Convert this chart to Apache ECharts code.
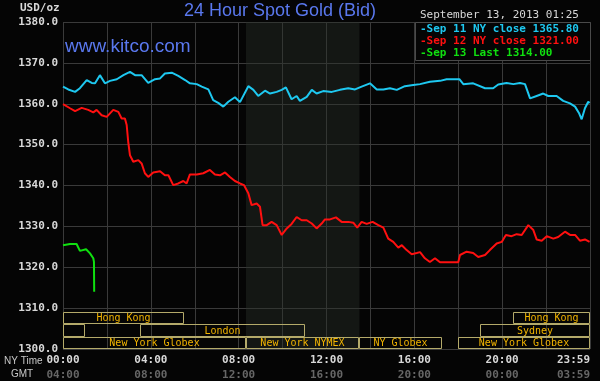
<!DOCTYPE html>
<html><head><meta charset="utf-8">
<script src="https://cdn.jsdelivr.net/npm/echarts@6/dist/echarts.min.js"></script>
<style>html,body{margin:0;padding:0;background:#050505}#c{width:600px;height:381px}</style>
</head><body><div id="c"></div>
<script>
// ---- data (hour of NY day, USD/oz) ----
const sep11 = [[0,1364.2],[0.24,1363.5],[0.55,1362.9],[0.77,1363.8],[1.08,1365.8],[1.31,1365.1],[1.46,1365.0],[1.68,1367.0],[1.91,1365.0],[2.14,1365.6],[2.45,1366.0],[2.75,1367.0],[3.05,1367.8],[3.28,1367.0],[3.58,1367.0],[3.88,1365.1],[4.19,1366.0],[4.42,1366.2],[4.64,1367.4],[4.95,1367.6],[5.25,1366.8],[5.56,1365.8],[5.78,1365.0],[6.09,1364.8],[6.32,1364.2],[6.62,1363.5],[6.84,1360.9],[7.07,1360.2],[7.30,1359.3],[7.53,1360.5],[7.83,1361.6],[8.06,1360.4],[8.44,1364.3],[8.67,1363.4],[8.89,1361.9],[9.20,1363.2],[9.43,1362.5],[9.73,1362.9],[9.96,1363.4],[10.15,1364.0],[10.41,1361.1],[10.64,1361.9],[10.79,1360.7],[11.10,1361.7],[11.33,1363.4],[11.55,1362.5],[11.85,1363.1],[12.24,1362.9],[12.61,1363.4],[12.99,1363.8],[13.30,1363.5],[13.60,1364.2],[13.98,1365.0],[14.29,1363.5],[14.59,1363.5],[14.89,1363.8],[15.20,1363.4],[15.57,1364.3],[15.95,1364.6],[16.26,1364.8],[16.71,1365.4],[17.17,1365.6],[17.47,1366.0],[18.05,1366.0],[18.23,1364.8],[18.68,1365.0],[19.22,1363.8],[19.59,1363.8],[19.82,1364.7],[20.20,1365.1],[20.51,1364.8],[20.81,1365.1],[21.04,1364.8],[21.27,1361.3],[21.57,1361.9],[21.87,1362.5],[22.10,1361.9],[22.48,1361.9],[22.78,1360.7],[23.09,1360.1],[23.32,1359.3],[23.51,1357.6],[23.62,1356.2],[23.77,1358.9],[23.92,1360.5],[23.98,1360.2]];
const sep12 = [[0,1359.9],[0.32,1358.9],[0.55,1358.2],[0.85,1359.0],[1.15,1358.5],[1.38,1357.9],[1.53,1358.5],[1.76,1357.2],[1.99,1356.8],[2.29,1358.5],[2.52,1358.0],[2.67,1356.4],[2.82,1356.4],[2.90,1354.8],[2.97,1350.7],[3.05,1347.4],[3.20,1345.8],[3.43,1346.2],[3.58,1345.4],[3.73,1343.0],[3.88,1342.1],[4.11,1343.2],[4.42,1343.5],[4.64,1342.5],[4.80,1342.5],[5.02,1340.1],[5.25,1340.5],[5.48,1341.1],[5.63,1340.5],[5.78,1342.7],[6.09,1342.7],[6.39,1343.0],[6.69,1343.8],[6.92,1342.7],[7.15,1342.5],[7.38,1343.2],[7.60,1342.1],[7.83,1341.1],[8.06,1340.5],[8.24,1340.1],[8.44,1338.1],[8.59,1335.2],[8.82,1335.6],[8.97,1334.8],[9.09,1330.3],[9.28,1330.3],[9.50,1331.1],[9.73,1330.3],[9.96,1327.9],[10.19,1329.5],[10.41,1330.6],[10.64,1332.3],[10.87,1331.5],[11.10,1331.5],[11.33,1330.7],[11.55,1329.5],[11.78,1330.7],[11.93,1331.7],[12.16,1331.7],[12.43,1332.2],[12.69,1331.1],[12.99,1331.1],[13.22,1330.9],[13.40,1329.7],[13.60,1331.1],[13.83,1330.6],[14.10,1331.1],[14.36,1330.3],[14.59,1329.7],[14.81,1327.0],[15.04,1326.2],[15.27,1324.8],[15.43,1325.4],[15.65,1324.2],[15.88,1323.2],[16.11,1323.5],[16.26,1323.7],[16.48,1322.2],[16.71,1321.3],[16.94,1322.2],[17.17,1321.2],[18.00,1321.2],[18.08,1323.0],[18.38,1323.8],[18.68,1323.5],[18.91,1322.5],[19.22,1323.0],[19.44,1324.2],[19.75,1325.8],[19.98,1326.2],[20.17,1327.9],[20.43,1327.6],[20.66,1328.1],[20.89,1327.9],[21.19,1330.3],[21.42,1329.1],[21.57,1326.8],[21.80,1326.5],[22.03,1327.6],[22.33,1327.0],[22.55,1327.4],[22.86,1328.7],[23.09,1327.9],[23.32,1327.9],[23.54,1326.5],[23.77,1326.8],[23.98,1326.2]];
const sep13 = [[0,1325.4],[0.32,1325.7],[0.62,1325.7],[0.77,1324.0],[1.05,1324.4],[1.23,1323.4],[1.38,1322.2],[1.41,1321.3],[1.42,1314.0]];

const legendLabels = ['-Sep 11 NY close 1365.80', '-Sep 12 NY close 1321.00', '-Sep 13 Last 1314.00'];
const seriesColors = ['#1ec8f0', '#ff1010', '#10e010'];
const yTicks = {min: 1300, max: 1380, interval: 10};
const xTicks = {min: 0, max: 24, interval: 2};
const gmtOffset = 4;

// trading sessions: name, start hour, end hour, row (0 = top)
const sessionNames = ['Hong Kong', 'Hong Kong', '', 'London', 'Sydney', 'New York Globex', 'New York NYMEX', 'NY Globex', 'New York Globex'];
const sessionStart = [0, 20.5, 0, 3.5, 19, 0, 8.33, 13.5, 18];
const sessionEnd   = [5.5, 24, 1, 11, 24, 8.33, 13.5, 17.25, 24];
const sessionRow   = [0, 0, 1, 1, 1, 2, 2, 2, 2];
const rowTops = [1309, 1306, 1303];
const rowHeight = 3;
const nymexShade = [8.33, 13.5];

const mono = '"DejaVu Sans Mono", monospace';
const pad = n => (n < 10 ? '0' : '') + n;
function fmtHour(v, off) {
  if (v >= 24) return pad((23 + off) % 24) + ':59';
  return pad((v + off) % 24) + ':00';
}

const chart = echarts.init(document.getElementById('c'));
const sessionData = sessionNames.map((n, i) => [sessionStart[i], sessionEnd[i], sessionRow[i]]);

chart.setOption({
  backgroundColor: '#050505',
  animation: false,
  grid: {left: 63, right: 10, top: 22, bottom: 32},
  xAxis: {
    type: 'value', min: xTicks.min, max: xTicks.max, interval: xTicks.interval,
    axisLine: {show: false}, axisTick: {show: false},
    splitLine: {show: true, showMinLine: true, showMaxLine: true, lineStyle: {color: '#3a3a3a', width: 1}},
    axisLabel: {
      margin: 4,
      formatter: v => (v % 4 === 0 || v === 24) ? ('{a|' + fmtHour(v, 0) + '}\n{b|' + fmtHour(v, gmtOffset) + '}') : '',
      rich: {
        a: {fontFamily: mono, fontSize: 11, fontWeight: 'bold', color: '#d8d8d8', lineHeight: 15},
        b: {fontFamily: mono, fontSize: 11, fontWeight: 'bold', color: '#666666', lineHeight: 15}
      },
      alignMaxLabel: 'right'
    }
  },
  yAxis: {
    type: 'value', min: yTicks.min, max: yTicks.max, interval: yTicks.interval,
    axisLine: {show: false}, axisTick: {show: false},
    splitLine: {show: true, lineStyle: {color: '#3a3a3a', width: 1}},
    axisLabel: {margin: 5, formatter: v => v.toFixed(1), fontFamily: mono, fontSize: 11, fontWeight: 'bold', color: '#d8d8d8'}
  },
  series: [
    {type: 'line', data: [], z: 0, silent: true,
     markArea: {silent: true, itemStyle: {color: 'rgba(42,50,42,0.4)'}, data: [[{xAxis: nymexShade[0]}, {xAxis: nymexShade[1]}]]}},
    {type: 'custom', z: 2, silent: true, clip: false, data: sessionData,
     renderItem: (params, api) => {
       const s = api.value(0), e = api.value(1), r = api.value(2);
       const top = rowTops[r], bot = top - rowHeight;
       const p1 = api.coord([s, top]), p2 = api.coord([e, bot]);
       const x1 = Math.round(p1[0]) + 0.5, x2 = Math.round(p2[0]) - 0.5;
       const y1 = Math.round(p1[1]) + 0.5, y2 = Math.round(p2[1]) - 0.5;
       return {type: 'group', children: [
         {type: 'rect', shape: {x: x1, y: y1, width: x2 - x1, height: y2 - y1}, style: {fill: 'none', stroke: '#b4aa6a', lineWidth: 1}},
         {type: 'text', style: {text: sessionNames[params.dataIndex], x: (x1 + x2) / 2, y: (y1 + y2) / 2 + 0.5, align: 'center', verticalAlign: 'middle', fill: '#f2b400', font: '10px ' + mono}}
       ]};
     }},
    {type: 'line', data: sep11, showSymbol: false, z: 3, lineStyle: {color: seriesColors[0], width: 2}, itemStyle: {color: seriesColors[0]}},
    {type: 'line', data: sep12, showSymbol: false, z: 3, lineStyle: {color: seriesColors[1], width: 2}, itemStyle: {color: seriesColors[1]}},
    {type: 'line', data: sep13, showSymbol: false, z: 3, lineStyle: {color: seriesColors[2], width: 2}, itemStyle: {color: seriesColors[2]}}
  ],
  graphic: [
    {type: 'text', left: 20, top: 3, style: {text: 'USD/oz', font: 'bold 11px ' + mono, fill: '#d8d8d8'}},
    {type: 'text', x: 280, y: 11, style: {text: '24 Hour Spot Gold (Bid)', font: '18px "Liberation Sans", Arial, sans-serif', fill: '#5a78ee', align: 'center', verticalAlign: 'middle'}},
    {type: 'text', x: 65, y: 47, z: 10, style: {text: 'www.kitco.com', font: '19px "Liberation Sans", Arial, sans-serif', fill: '#5a78ee', verticalAlign: 'middle'}},
    {type: 'text', x: 420, y: 15, style: {text: 'September 13, 2013 01:25', font: '11px ' + mono, fill: '#d8d8d8', verticalAlign: 'middle'}},
    {type: 'rect', z: 10, shape: {x: 415.5, y: 22.5, width: 175, height: 38}, style: {fill: '#050505', stroke: '#4a4a4a', lineWidth: 1}},
    {type: 'text', z: 11, x: 420, y: 29, style: {text: legendLabels[0], font: 'bold 11px ' + mono, fill: seriesColors[0], verticalAlign: 'middle'}},
    {type: 'text', z: 11, x: 420, y: 41, style: {text: legendLabels[1], font: 'bold 11px ' + mono, fill: seriesColors[1], verticalAlign: 'middle'}},
    {type: 'text', z: 11, x: 420, y: 53, style: {text: legendLabels[2], font: 'bold 11px ' + mono, fill: seriesColors[2], verticalAlign: 'middle'}},
    {type: 'text', x: 4, y: 361, style: {text: 'NY Time', font: '10px "Liberation Sans", Arial, sans-serif', fill: '#c8c8c8', verticalAlign: 'middle'}},
    {type: 'text', x: 11, y: 374, style: {text: 'GMT', font: '10px "Liberation Sans", Arial, sans-serif', fill: '#c8c8c8', verticalAlign: 'middle'}}
  ]
});
</script></body></html>
